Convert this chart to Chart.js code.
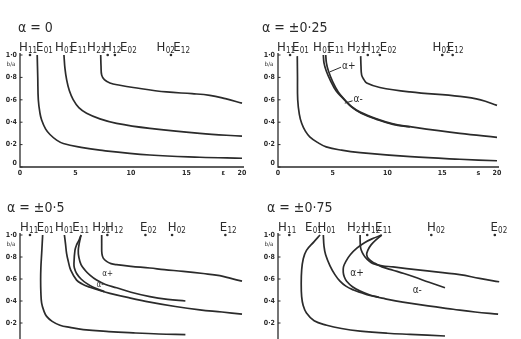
<!DOCTYPE html>
<html>
<head>
<meta charset="utf-8">
<script src="https://cdn.jsdelivr.net/npm/chart.js@4.4.0/dist/chart.umd.min.js"></script>
<style>
body{margin:0;background:#fff;width:521px;height:339px;overflow:hidden;position:relative;}
canvas{position:absolute;}
</style>
</head>
<body>
<canvas id="c1" width="260" height="185" style="left:0;top:0"></canvas>
<canvas id="c2" width="261" height="185" style="left:260px;top:0"></canvas>
<canvas id="c3" width="260" height="190" style="left:0;top:170px"></canvas>
<canvas id="c4" width="261" height="190" style="left:260px;top:170px"></canvas>
<script>
// axis ticks (same for every panel)
const yTicks=[0,0.2,0.4,0.6,0.8,1.0];
const yTickText=["0","0·2","0·4","0·6","0·8","1·0"];
const xTicks=[0,5,10,15,20];

// ---- panel 1 : alpha = 0
const p1_E01_x=[1.55,1.6,1.65,1.8,1.95,2.3,2.7,3.3,3.9,5.5,7.2,11.7,16.2,20];
const p1_E01_y=[1.0,0.8,0.60,0.48,0.42,0.34,0.29,0.24,0.21,0.175,0.15,0.107,0.087,0.078];
const p1_H01_x=[3.96,4.05,4.2,4.45,4.8,5.3,6.0,7.2,8.7,11.7,16.2,20];
const p1_H01_y=[1.0,0.88,0.78,0.68,0.60,0.53,0.48,0.43,0.39,0.345,0.30,0.275];
const p1_H21_x=[7.27,7.3,7.36,7.6,8.1,9.0,10.2,13.2,15.5,17.1,18.5,20];
const p1_H21_y=[1.0,0.9,0.82,0.78,0.75,0.73,0.71,0.67,0.655,0.64,0.61,0.57];
const p1_dots=[0.9,7.9,8.55,13.6];
const p1_modes=["H11","E01","H01","E11","H21","H12","E02","H02","E12"];
const p1_modeX=[-0.1,1.44,3.15,4.5,6.04,7.48,9.0,12.3,13.8];

// ---- panel 2 : alpha = +-0.25
const p2_E01_x=[1.76,1.78,1.8,1.95,2.16,2.5,2.9,3.6,4.4,5.8,7.5,12.1,16.6,20];
const p2_E01_y=[0.99,0.8,0.60,0.47,0.39,0.32,0.27,0.22,0.18,0.15,0.128,0.092,0.069,0.056];
const p2_H21_x=[7.55,7.58,7.64,7.85,8.1,9.3,12.05,16.6,18.5,20];
const p2_H21_y=[0.99,0.9,0.82,0.78,0.75,0.71,0.67,0.63,0.6,0.55];
const p2_ap_x=[4.14,4.2,4.4,4.8,5.3,5.96,6.7,7.5,9.0,10.5,12.05,16.6,20];
const p2_ap_y=[1.0,0.93,0.86,0.77,0.68,0.61,0.54,0.49,0.43,0.385,0.36,0.30,0.265];
const p2_am_x=[4.36,4.42,4.6,5.0,5.5,6.1,6.8,7.6,9.0,10.5,12.05];
const p2_am_y=[1.0,0.93,0.86,0.76,0.67,0.60,0.53,0.48,0.425,0.38,0.358];
const p2_dots=[1.1,8.2,9.3,15.0,15.95];
const p2_modes=["H11","E01","H01","E11","H21","H12","E02","H02","E12"];
const p2_modeX=[-0.1,1.28,3.2,4.5,6.3,7.67,9.3,14.1,15.4];

// ---- panel 3 : alpha = +-0.5
const p3_E01_x=[2.04,2.0,1.95,1.88,1.86,1.88,1.95,2.15,2.4,2.9,3.6,4.5,5.7,8,10.2,12.5,14.9];
const p3_E01_y=[1.0,0.92,0.83,0.7,0.59,0.48,0.38,0.31,0.26,0.215,0.18,0.16,0.14,0.122,0.11,0.10,0.094];
const p3_H01_x=[4.0,4.1,4.2,4.35,4.57,5.1,5.6,6.3,7.2,8.1,9.8,11.7,14,16.2,18.2,20];
const p3_H01_y=[1.0,0.92,0.83,0.76,0.68,0.59,0.555,0.525,0.495,0.47,0.43,0.39,0.35,0.32,0.30,0.28];
const p3_am_x=[5.5,5.3,5.1,4.95,4.86,4.9,5.1,5.5,6.0,6.6,7.6];
const p3_am_y=[1.0,0.95,0.91,0.86,0.74,0.70,0.65,0.60,0.56,0.525,0.485];
const p3_ap_x=[5.5,5.35,5.25,5.3,5.5,5.86,6.3,6.9,7.7,8.7,10.0,11.7,13.3,14.9];
const p3_ap_y=[1.0,0.93,0.86,0.80,0.73,0.68,0.635,0.59,0.55,0.52,0.48,0.44,0.415,0.40];
const p3_H21_x=[7.36,7.36,7.38,7.5,7.8,8.2,8.7,10,11.7,13,14.7,16.5,18,19,20];
const p3_H21_y=[1.0,0.92,0.83,0.79,0.76,0.74,0.73,0.715,0.70,0.685,0.67,0.65,0.63,0.605,0.58];
const p3_dots=[0.9,7.87,11.3,13.7,18.5];
const p3_modes=["H11","E01","H01","E11","H21","H12","E02","H02","E12"];
const p3_modeX=[0,1.5,3.15,4.7,6.5,7.66,10.8,13.3,18.0];

// ---- panel 4 : alpha = +-0.75
const p4_E01_x=[3.84,3.3,2.6,2.3,2.16,2.12,2.16,2.3,2.6,3.3,4.45,5.8,7.5,10,12.05,15.25];
const p4_E01_y=[1.0,0.94,0.86,0.78,0.68,0.56,0.44,0.36,0.29,0.22,0.18,0.15,0.127,0.107,0.097,0.082];
const p4_H01_x=[4.14,4.2,4.35,4.75,5.2,5.66,6.2,6.9,7.6,8.4,9.8,11.4,13.7,16.0,18,20.1];
const p4_H01_y=[1.0,0.9,0.82,0.72,0.64,0.58,0.535,0.50,0.475,0.45,0.42,0.39,0.355,0.325,0.30,0.28];
const p4_ap_x=[9.47,8.7,7.9,7.2,6.6,6.2,5.98,5.96,6.05,6.27,6.8,7.5,8.4,9.2];
const p4_ap_y=[1.0,0.97,0.93,0.88,0.82,0.76,0.71,0.66,0.62,0.58,0.53,0.49,0.455,0.435];
const p4_am_x=[9.47,9.0,8.5,8.2,8.1,8.3,8.8,9.5,10.5,11.5,12.4,13.8,15.25];
const p4_am_y=[1.0,0.96,0.91,0.86,0.82,0.78,0.745,0.71,0.68,0.65,0.62,0.57,0.52];
const p4_H21_x=[7.5,7.5,7.55,7.7,7.95,8.3,8.7,9.5,10.5,13.0,16.6,18.4,20.2];
const p4_H21_y=[1.0,0.95,0.88,0.84,0.80,0.765,0.74,0.72,0.71,0.68,0.64,0.605,0.575];
const p4_dots=[1.03,8.15,14.0,19.8];
const p4_modes=["H11","E01","H01","H21","H12","E11","H02","E02"];
const p4_modeX=[0,2.47,3.6,6.3,7.67,8.86,13.6,19.4];

const INK="#2b2b2b";
const FONT='"Liberation Sans Narrow","DejaVu Sans Condensed",sans-serif';

function pts(xs,ys){
    var out=[];
    for(var i=0;i<xs.length;i++){
        out.push({x:xs[i],y:ys[i]});
    }
    return out;
}

function modeText(ctx,x,y,name){
    ctx.font='13px '+FONT;
    ctx.textAlign="left";
    ctx.textBaseline="alphabetic";
    ctx.fillText(name[0],x,y);
    var w=ctx.measureText(name[0]).width;
    ctx.font='8px '+FONT;
    ctx.fillText(name.slice(1),x+w+0.3,y+1.5);
}

// draws the hand-drawn looking axes, labels and notes
const paperPlugin={
    id:"paper",
    afterDraw(chart,args,opts){
        const ctx=chart.ctx;
        const xs=chart.scales.x, ys=chart.scales.y;
        const a=chart.chartArea;
        const p=chart.config.options.plugins.paper;
        ctx.save();
        ctx.strokeStyle=INK;
        ctx.fillStyle=INK;
        ctx.lineWidth=1.3;
        // axes
        ctx.beginPath();
        ctx.moveTo(a.left,a.top-2);
        ctx.lineTo(a.left,a.bottom);
        ctx.lineTo(xs.getPixelForValue(20)+2,a.bottom);
        ctx.stroke();
        ctx.lineWidth=1;
        ctx.font='bold 7px '+FONT;
        ctx.textAlign="right";
        ctx.textBaseline="middle";
        for(var i=0;i<yTicks.length;i++){
            if(yTicks[i]==0 && !p.xLabels) continue;
            var py=ys.getPixelForValue(yTicks[i]);
            ctx.beginPath();
            ctx.moveTo(a.left,py);
            ctx.lineTo(a.left+2.5,py);
            ctx.stroke();
            ctx.fillText(yTickText[i],a.left-3,yTicks[i]==0?py-4:py);
        }
        ctx.font='6px '+FONT;
        ctx.textAlign="center";
        ctx.fillText("b/a",a.left-9,a.top+9);
        if(p.xLabels){
            ctx.font='bold 7px '+FONT;
            ctx.textBaseline="top";
            for(var j=0;j<xTicks.length;j++){
                ctx.fillText(String(xTicks[j]),xs.getPixelForValue(xTicks[j]),a.bottom+3);
            }
            ctx.fillText(p.stray,xs.getPixelForValue(18.3),a.bottom+3);
        }
        // title
        ctx.font='14px '+FONT;
        ctx.textAlign="left";
        ctx.textBaseline="alphabetic";
        ctx.fillText(p.title,p.titleX,a.top-23);
        // mode names
        for(var k=0;k<p.modes.length;k++){
            modeText(ctx,xs.getPixelForValue(p.modeX[k]),a.top-4,p.modes[k]);
        }
        // alpha notes
        for(var n=0;n<p.notes.length;n++){
            var nt=p.notes[n];
            ctx.font=nt.size+'px '+FONT;
            ctx.textAlign="left";
            ctx.textBaseline="middle";
            ctx.fillText(nt.text,xs.getPixelForValue(nt.x),ys.getPixelForValue(nt.y));
            if(nt.to){
                ctx.beginPath();
                ctx.moveTo(xs.getPixelForValue(nt.x)-1,ys.getPixelForValue(nt.y)+1);
                ctx.lineTo(xs.getPixelForValue(nt.to[0]),ys.getPixelForValue(nt.to[1]));
                ctx.stroke();
            }
        }
        ctx.restore();
    }
};

function makePanel(id,cfg){
    let c=document.getElementById(id).getContext("2d");
    var datasets=[];
    for(var i=0;i<cfg.curves.length;i++){
        datasets.push({
            data:cfg.curves[i],
            showLine:true,
            borderColor:INK,
            borderWidth:1.7,
            pointRadius:0,
            tension:0.4,
            fill:false,
            clip:false
        });
    }
    datasets.push({
        data:cfg.dots.map(function(v){return {x:v,y:1.0};}),
        showLine:false,
        pointRadius:1.3,
        backgroundColor:INK,
        borderWidth:0,
        clip:false
    });
    return new Chart(c,{
        type:"scatter",
        data:{datasets:datasets},
        options:{
            responsive:false,
            animation:false,
            events:[],
            layout:{padding:cfg.pad},
            scales:{
                x:{type:"linear",min:0,max:20,display:false},
                y:{type:"linear",min:0,max:1,display:false}
            },
            plugins:{
                legend:{display:false},
                tooltip:{enabled:false},
                paper:cfg.paper
            }
        },
        plugins:[paperPlugin]
    });
}

makePanel("c1",{
    curves:[pts(p1_E01_x,p1_E01_y),pts(p1_H01_x,p1_H01_y),pts(p1_H21_x,p1_H21_y)],
    dots:p1_dots,
    pad:{left:20,top:55,right:18,bottom:18},
    paper:{title:"α = 0",titleX:18,modes:p1_modes,modeX:p1_modeX,xLabels:true,stray:"ε",notes:[]}
});
makePanel("c2",{
    curves:[pts(p2_E01_x,p2_E01_y),pts(p2_ap_x,p2_ap_y),pts(p2_am_x,p2_am_y),pts(p2_H21_x,p2_H21_y)],
    dots:p2_dots,
    pad:{left:18,top:55,right:24,bottom:18},
    paper:{title:"α = ±0·25",titleX:2,modes:p2_modes,modeX:p2_modeX,xLabels:true,stray:"s",
        notes:[{text:"α+",x:5.85,y:0.90,size:10,to:[4.75,0.85]},{text:"α-",x:6.9,y:0.60,size:10,to:[6.1,0.57]}]}
});
makePanel("c3",{
    curves:[pts(p3_E01_x,p3_E01_y),pts(p3_H01_x,p3_H01_y),pts(p3_am_x,p3_am_y),pts(p3_ap_x,p3_ap_y),pts(p3_H21_x,p3_H21_y)],
    dots:p3_dots,
    pad:{left:20,top:65,right:18,bottom:15},
    paper:{title:"α = ±0·5",titleX:7,modes:p3_modes,modeX:p3_modeX,xLabels:false,stray:"",
        notes:[{text:"α+",x:7.4,y:0.65,size:8},{text:"α-",x:6.9,y:0.55,size:8}]}
});
makePanel("c4",{
    curves:[pts(p4_E01_x,p4_E01_y),pts(p4_H01_x,p4_H01_y),pts(p4_ap_x,p4_ap_y),pts(p4_am_x,p4_am_y),pts(p4_H21_x,p4_H21_y)],
    dots:p4_dots,
    pad:{left:18,top:65,right:24,bottom:15},
    paper:{title:"α = ±0·75",titleX:7,modes:p4_modes,modeX:p4_modeX,xLabels:false,stray:"",
        notes:[{text:"α+",x:6.6,y:0.65,size:10},{text:"α-",x:12.3,y:0.50,size:10}]}
});
</script>
</body>
</html>
